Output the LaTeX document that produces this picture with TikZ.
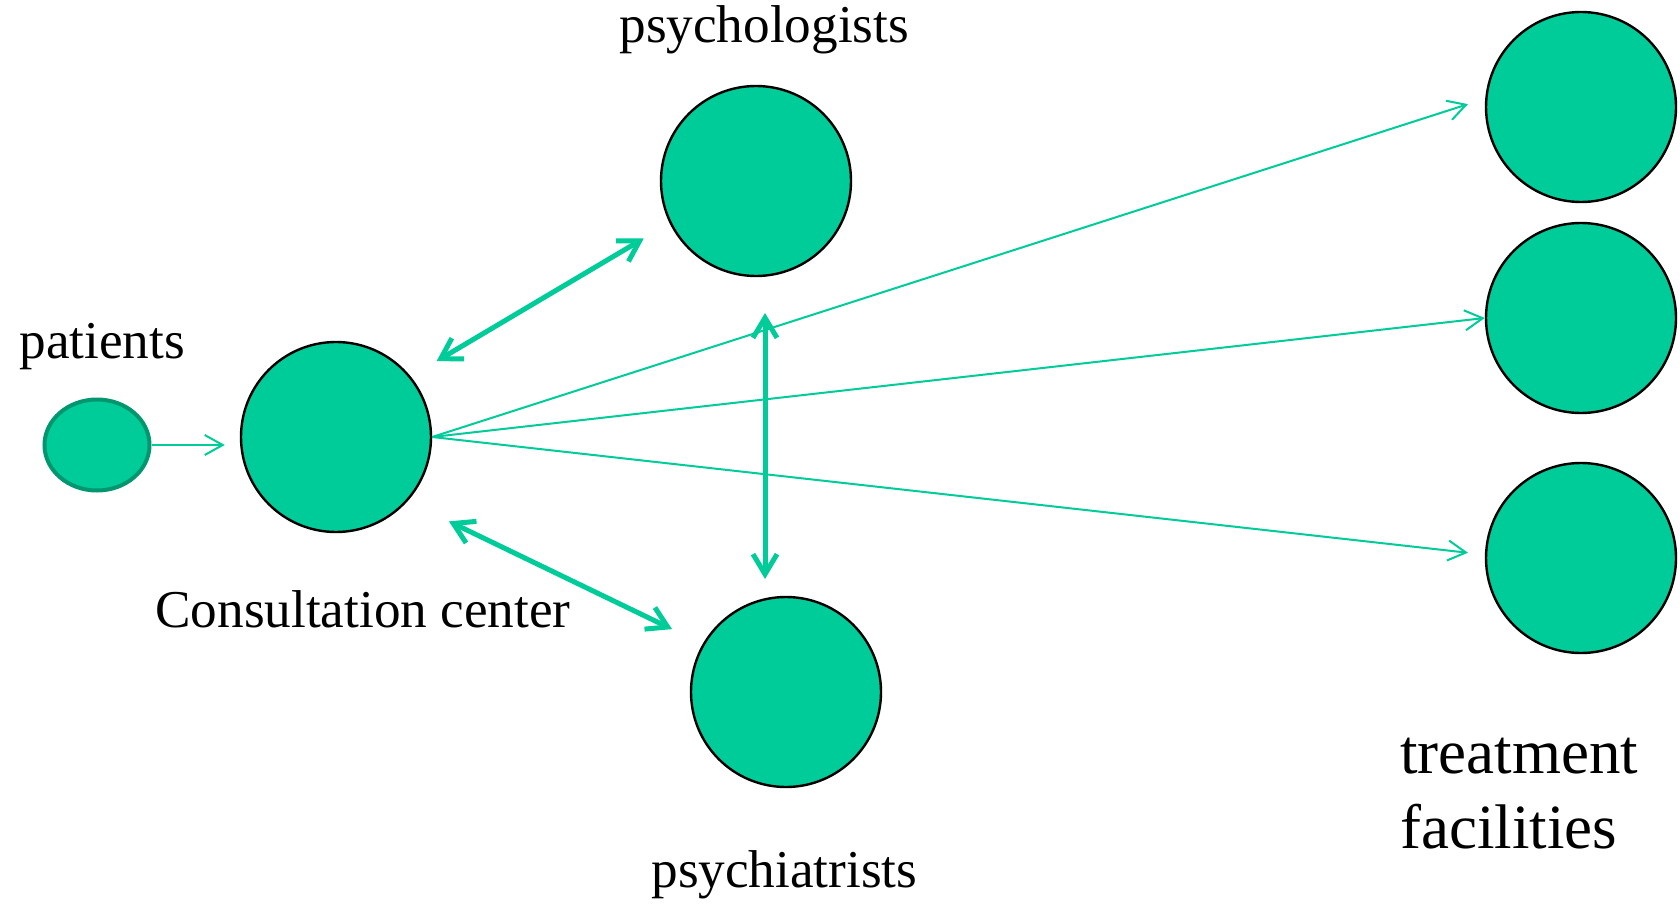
\documentclass[tikz,border=0pt]{standalone}
\usepackage{fontspec}
\setmainfont{Liberation Serif}
\usetikzlibrary{arrows.meta,shapes.geometric}
\definecolor{mint}{RGB}{0,204,153}
\definecolor{mintdark}{RGB}{0,150,110}

\begin{document}
\begin{tikzpicture}[x=0.5pt,y=-0.5pt,
		blob/.style={circle,draw=black,line width=1.2pt,fill=mint,minimum size=95pt,inner sep=0pt},
		lbl/.style={font=\fontsize{26.6}{37.5}\selectfont,inner sep=0pt},
		flow/.style={draw=mint,line width=1pt,-{Straight Barb[length=9pt,width=10pt]}},
		link/.style={draw=mint,line width=2.5pt,line cap=round,
			{Straight Barb[length=10pt,width=12pt]}-{Straight Barb[length=10pt,width=12pt]}}]
		\useasboundingbox (0,0) rectangle (1680,904);

		% circles
		\node [ellipse,draw=mintdark,line width=2pt,fill=mint,minimum width=52.5pt,minimum height=45.5pt,inner sep=0pt] (pat) at (97,445) {};
		\node [blob] (cc) at (336,437) {};
		\node [blob] (psyl) at (756,181) {};
		\node [blob] (psyc) at (786,692) {};
		\node [blob] (tf1) at (1581,107) {};
		\node [blob] (tf2) at (1581,318) {};
		\node [blob] (tf3) at (1581,558) {};

		% labels
		\node [lbl,anchor=base west] (patlbl) at (19,358) {patients};
		\node [lbl,anchor=base west] (cclbl) at (155,627) {Consultation center};
		\node [lbl,anchor=base west] (psyllbl) at (619,43) {psychologists};
		\node [lbl,anchor=base west] (psyclbl) at (651,887) {psychiatrists};
		\node [lbl,font=\fontsize{31.5}{37.5}\selectfont,anchor=base west,align=left] (tflbl) at (1400,848) {treatment\\facilities};

		% referrals
		\draw [flow,shorten >=7.5pt] (pat.east) -- (pat.east -| cc.west);
		\draw [flow,shorten >=9pt] (cc.east) -- (tf1.175);
		\draw [flow] (cc.east) -- (tf2.west);
		\draw [flow,shorten >=8.5pt] (cc.east) -- (tf3.178);

		% consultations
		\draw [link,shorten <=15pt,shorten >=15pt] (cc.39) -- (psyl.206);
		\draw [link,shorten <=23pt,shorten >=17pt] (cc.-42) -- (psyc.150);
		\coordinate (vtop) at (765,313);
		\coordinate (vbot) at (765,579);
		\draw [link] (vtop) -- (vbot);

\end{tikzpicture}
\end{document}
